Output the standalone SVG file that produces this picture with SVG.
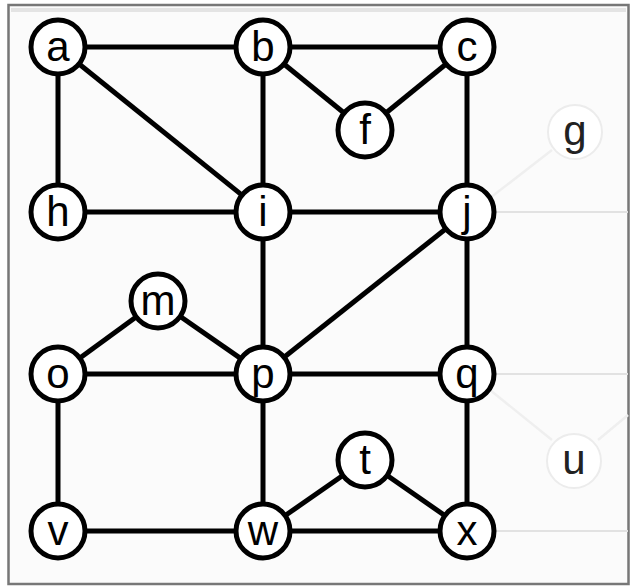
<svg xmlns="http://www.w3.org/2000/svg" width="632" height="587" viewBox="0 0 632 587">
<style>
.e{stroke:#000;stroke-width:5;fill:none}
.ghost{stroke:#e2e2e2;stroke-width:2;fill:none}
.faint{stroke:#efefef;stroke-width:2.5;fill:none}
.n circle{fill:#fff;stroke:#000;stroke-width:5}
.g circle{fill:#fff;stroke:#ececec;stroke-width:2}
text{font-family:"Liberation Sans",Arial,sans-serif;font-size:42px;text-anchor:middle;fill:#000}
.g text{fill:#222}
</style>
<rect x="0" y="0" width="632" height="587" fill="#ffffff"/>
<rect x="8.5" y="5" width="620" height="579" fill="#fbfbfb" stroke="#777" stroke-width="2.5"/>
<rect x="11" y="8" width="615" height="4" fill="#e4e4e4"/>
<g id="connectors">
<line class="ghost" x1="490" y1="212" x2="628" y2="212"/>
<line class="ghost" x1="490" y1="374" x2="628" y2="374"/>
<line class="ghost" x1="490" y1="531" x2="628" y2="531"/>
<line class="faint" x1="490" y1="198" x2="552" y2="150"/>
<line class="faint" x1="490" y1="390" x2="552" y2="440"/>
<line class="faint" x1="598" y1="440" x2="628" y2="415"/>
<line class="e" x1="58" y1="47" x2="263" y2="47"/>
<line class="e" x1="58" y1="47" x2="58" y2="212"/>
<line class="e" x1="58" y1="47" x2="263" y2="212"/>
<line class="e" x1="263" y1="47" x2="467" y2="47"/>
<line class="e" x1="263" y1="47" x2="365" y2="130"/>
<line class="e" x1="365" y1="130" x2="467" y2="47"/>
<line class="e" x1="263" y1="47" x2="263" y2="212"/>
<line class="e" x1="58" y1="212" x2="263" y2="212"/>
<line class="e" x1="263" y1="212" x2="467" y2="212"/>
<line class="e" x1="467" y1="47" x2="467" y2="212"/>
<line class="e" x1="263" y1="212" x2="263" y2="374"/>
<line class="e" x1="467" y1="212" x2="263" y2="374"/>
<line class="e" x1="467" y1="212" x2="467" y2="374"/>
<line class="e" x1="58" y1="374" x2="158" y2="301"/>
<line class="e" x1="158" y1="301" x2="263" y2="374"/>
<line class="e" x1="58" y1="374" x2="263" y2="374"/>
<line class="e" x1="263" y1="374" x2="467" y2="374"/>
<line class="e" x1="58" y1="374" x2="58" y2="531"/>
<line class="e" x1="263" y1="374" x2="263" y2="531"/>
<line class="e" x1="467" y1="374" x2="467" y2="531"/>
<line class="e" x1="58" y1="531" x2="263" y2="531"/>
<line class="e" x1="263" y1="531" x2="365" y2="460"/>
<line class="e" x1="365" y1="460" x2="467" y2="531"/>
<line class="e" x1="263" y1="531" x2="467" y2="531"/>
</g>
<g id="node-a" class="n"><circle cx="58" cy="47" r="27"/><text x="58" y="61">a</text></g>
<g id="node-b" class="n"><circle cx="263" cy="47" r="27"/><text x="263" y="61">b</text></g>
<g id="node-c" class="n"><circle cx="467" cy="47" r="27"/><text x="467" y="61">c</text></g>
<g id="node-f" class="n"><circle cx="365" cy="130" r="27"/><text x="365" y="144">f</text></g>
<g id="node-g" class="g"><circle cx="575" cy="132" r="27"/><text x="575" y="145">g</text></g>
<g id="node-h" class="n"><circle cx="58" cy="212" r="27"/><text x="58" y="226">h</text></g>
<g id="node-i" class="n"><circle cx="263" cy="212" r="27"/><text x="263" y="226">i</text></g>
<g id="node-j" class="n"><circle cx="467" cy="212" r="27"/><text x="467" y="226">j</text></g>
<g id="node-m" class="n"><circle cx="158" cy="301" r="27"/><text x="158" y="315">m</text></g>
<g id="node-o" class="n"><circle cx="58" cy="374" r="27"/><text x="58" y="388">o</text></g>
<g id="node-p" class="n"><circle cx="263" cy="374" r="27"/><text x="263" y="388">p</text></g>
<g id="node-q" class="n"><circle cx="467" cy="374" r="27"/><text x="467" y="388">q</text></g>
<g id="node-t" class="n"><circle cx="365" cy="460" r="27"/><text x="365" y="474">t</text></g>
<g id="node-u" class="g"><circle cx="574" cy="461" r="27"/><text x="574" y="474">u</text></g>
<g id="node-v" class="n"><circle cx="58" cy="531" r="27"/><text x="58" y="545">v</text></g>
<g id="node-w" class="n"><circle cx="263" cy="531" r="27"/><text x="263" y="545">w</text></g>
<g id="node-x" class="n"><circle cx="467" cy="531" r="27"/><text x="467" y="545">x</text></g>
</svg>
